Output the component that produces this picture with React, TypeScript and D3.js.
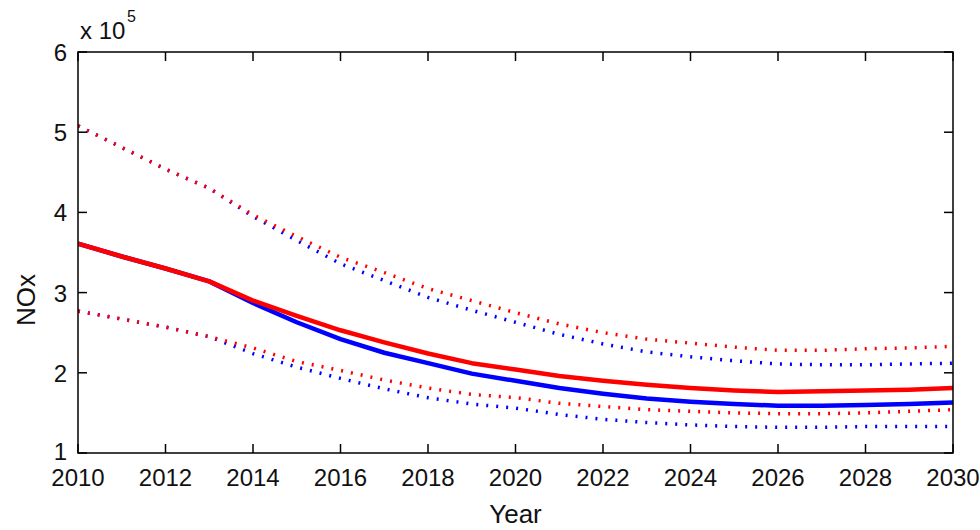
import React from "react";
import * as d3 from "d3";

// Years on the horizontal axis
const years: number[] = d3.range(2010, 2031);

// NOx emissions, in units of 1e5
const redCentral: number[] = [3.61, 3.45, 3.30, 3.14, 2.90, 2.71, 2.53, 2.38, 2.24, 2.12, 2.04, 1.96, 1.90, 1.85, 1.81, 1.78, 1.76, 1.77, 1.78, 1.79, 1.81];
const redUpper: number[] = [5.08, 4.81, 4.54, 4.30, 3.97, 3.70, 3.44, 3.25, 3.05, 2.90, 2.75, 2.61, 2.50, 2.42, 2.37, 2.32, 2.28, 2.28, 2.30, 2.31, 2.33];
const redLower: number[] = [2.77, 2.67, 2.57, 2.45, 2.31, 2.14, 2.03, 1.91, 1.81, 1.73, 1.69, 1.62, 1.58, 1.54, 1.52, 1.50, 1.49, 1.49, 1.50, 1.52, 1.54];

const blueCentral: number[] = [3.61, 3.45, 3.30, 3.14, 2.87, 2.63, 2.42, 2.25, 2.12, 1.99, 1.90, 1.81, 1.74, 1.68, 1.64, 1.61, 1.59, 1.59, 1.60, 1.61, 1.63];
const blueUpper: number[] = [5.08, 4.81, 4.54, 4.30, 3.95, 3.65, 3.36, 3.15, 2.94, 2.78, 2.63, 2.48, 2.36, 2.26, 2.20, 2.15, 2.11, 2.10, 2.10, 2.11, 2.12];
const blueLower: number[] = [2.77, 2.67, 2.57, 2.45, 2.24, 2.07, 1.93, 1.80, 1.69, 1.61, 1.56, 1.48, 1.42, 1.38, 1.35, 1.33, 1.32, 1.32, 1.33, 1.33, 1.33];

const xTicks: number[] = d3.range(2010, 2031, 2);
const yTicks: number[] = [1, 2, 3, 4, 5, 6];

const W = 980;
const H = 530;
const plot = { left: 78, right: 953, top: 52, bottom: 453 };
const FONT = "'Liberation Sans', Arial, Helvetica, sans-serif";
const INK = "#111";

export default function App() {
  const x = d3.scaleLinear().domain([2010, 2030]).range([plot.left, plot.right]);
  const y = d3.scaleLinear().domain([1, 6]).range([plot.bottom, plot.top]);

  const line = d3
    .line<number>()
    .x((_, i) => x(years[i]))
    .y((d) => y(d));

  const tickLen = 9;

  // bands first, then central estimates; red drawn over blue
  const series = [
    { values: blueUpper, color: "#0000ff", dotted: true },
    { values: blueLower, color: "#0000ff", dotted: true },
    { values: redUpper, color: "#ff0000", dotted: true },
    { values: redLower, color: "#ff0000", dotted: true },
    { values: blueCentral, color: "#0000ff", dotted: false },
    { values: redCentral, color: "#ff0000", dotted: false },
  ];

  return (
    <svg
      width={W}
      height={H}
      style={{ position: "absolute", left: 0, top: 0, background: "#fff" }}
      fontFamily={FONT}
    >
      <rect x={0} y={0} width={W} height={H} fill="#fff" />
      <defs>
        <clipPath id="plotClip">
          <rect x={plot.left} y={plot.top} width={plot.right - plot.left} height={plot.bottom - plot.top} />
        </clipPath>
      </defs>

      <g clipPath="url(#plotClip)">
        {series.map((s, i) => (
          <path
            key={i}
            d={line(s.values) || ""}
            fill="none"
            stroke={s.color}
            strokeWidth={s.dotted ? 3.5 : 4.5}
            strokeDasharray={s.dotted ? "2 8" : undefined}
            strokeLinecap="butt"
            strokeLinejoin="round"
          />
        ))}
      </g>

      {/* axes box */}
      <rect
        x={plot.left}
        y={plot.top}
        width={plot.right - plot.left}
        height={plot.bottom - plot.top}
        fill="none"
        stroke="#000"
        strokeWidth={1.5}
      />

      {/* x ticks, inward on bottom and top */}
      {xTicks.map((t) => (
        <g key={"x" + t}>
          <line x1={x(t)} x2={x(t)} y1={plot.bottom} y2={plot.bottom - tickLen} stroke="#000" strokeWidth={1.5} />
          <line x1={x(t)} x2={x(t)} y1={plot.top} y2={plot.top + tickLen} stroke="#000" strokeWidth={1.5} />
          <text x={x(t)} y={486} fontSize={24} textAnchor="middle" fill={INK}>
            {t}
          </text>
        </g>
      ))}

      {/* y ticks, inward on left and right */}
      {yTicks.map((t) => (
        <g key={"y" + t}>
          <line x1={plot.left} x2={plot.left + tickLen} y1={y(t)} y2={y(t)} stroke="#000" strokeWidth={1.5} />
          <line x1={plot.right} x2={plot.right - tickLen} y1={y(t)} y2={y(t)} stroke="#000" strokeWidth={1.5} />
          <text x={67} y={y(t) + (t === 1 ? 7 : 9)} fontSize={24} textAnchor="end" fill={INK}>
            {t}
          </text>
        </g>
      ))}

      {/* exponent label */}
      <text x={80} y={39} fontSize={24} fill={INK}>
        x 10
      </text>
      <text x={127} y={22} fontSize={16} fill={INK}>
        5
      </text>

      {/* axis titles */}
      <text x={(plot.left + plot.right) / 2} y={523} fontSize={26} textAnchor="middle" fill={INK}>
        Year
      </text>
      <text
        transform={`translate(35, 300) rotate(-90)`}
        fontSize={26}
        textAnchor="middle"
        fill={INK}
      >
        NOx
      </text>
    </svg>
  );
}
